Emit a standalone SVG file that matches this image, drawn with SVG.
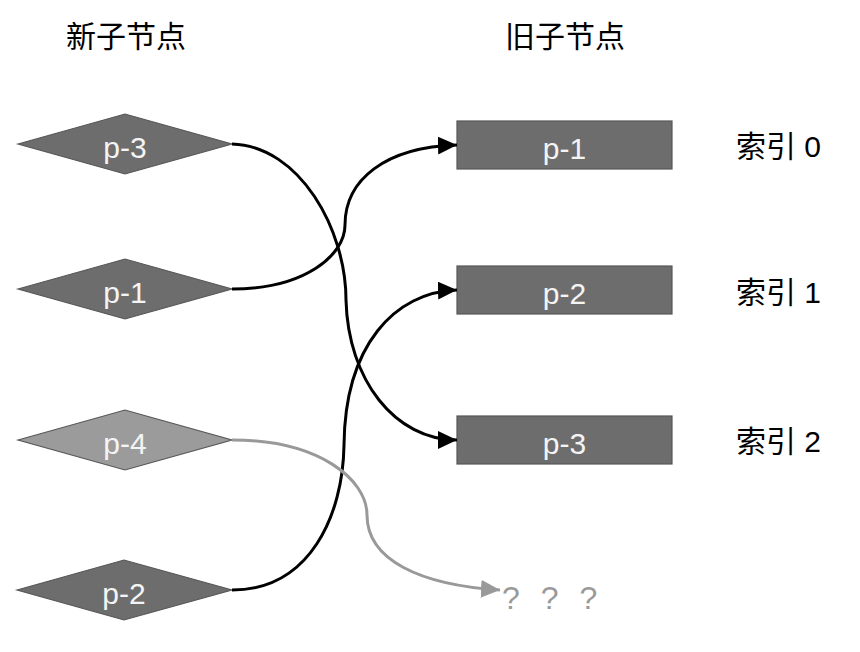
<svg xmlns="http://www.w3.org/2000/svg" width="860" height="652" viewBox="0 0 860 652">
<defs>
<style>
.dia{fill:#6d6d6d;stroke:#575757;stroke-width:1.2}
.dia.light{fill:#9b9b9b}
.rect{fill:#6d6d6d;stroke:#575757;stroke-width:1.2}
.nt{font-family:"Liberation Sans",Arial,sans-serif;font-size:30px;fill:#f4f4f4;text-anchor:middle}
.hd{font-family:"Liberation Sans","Noto Sans CJK SC",sans-serif;font-size:30px;fill:#000;text-anchor:middle}
.lb{font-family:"Liberation Sans","Noto Sans CJK SC",sans-serif;font-size:30px;fill:#000}
.q{font-family:"Liberation Sans",Arial,sans-serif;font-size:32px;fill:#999;word-spacing:12px}
.ed{fill:none;stroke:#000;stroke-width:3}
.ed.gray{stroke:#999}
</style>
<marker id="ah" markerUnits="userSpaceOnUse" markerWidth="20" markerHeight="18" refX="19" refY="9" orient="auto">
<path d="M0,0 L19,9 L0,18 Z" fill="#000"/>
</marker>
<marker id="ahg" markerUnits="userSpaceOnUse" markerWidth="20" markerHeight="18" refX="19" refY="9" orient="auto">
<path d="M0,0 L19,9 L0,18 Z" fill="#999"/>
</marker>
</defs>
<rect width="860" height="652" fill="#fff"/>

<g id="headers">
<text class="hd" x="126" y="47">新子节点</text>
<text class="hd" x="565" y="47">旧子节点</text>
</g>

<g id="new-p3">
<polygon class="dia" points="18,144 125,114 232,144 125,174"/>
<text class="nt" x="125" y="158">p-3</text>
</g>
<g id="new-p1">
<polygon class="dia" points="18,289 125,259 232,289 125,319"/>
<text class="nt" x="125" y="303">p-1</text>
</g>
<g id="new-p4">
<polygon class="dia light" points="18,440 125,410 232,440 125,470"/>
<text class="nt" x="125" y="454">p-4</text>
</g>
<g id="new-p2">
<polygon class="dia" points="17,590 124,560 232,590 124,620"/>
<text class="nt" x="124" y="604">p-2</text>
</g>

<g id="old-p1">
<rect class="rect" x="457" y="121" width="215" height="48"/>
<text class="nt" x="564.5" y="159">p-1</text>
</g>
<g id="old-p2">
<rect class="rect" x="457" y="266" width="215" height="48"/>
<text class="nt" x="564.5" y="304">p-2</text>
</g>
<g id="old-p3">
<rect class="rect" x="457" y="416" width="215" height="48"/>
<text class="nt" x="564.5" y="454">p-3</text>
</g>

<g id="index-labels">
<text class="lb" x="736" y="157">索引 0</text>
<text class="lb" x="736" y="303">索引 1</text>
<text class="lb" x="736" y="452">索引 2</text>
</g>

<g id="unknown">
<text class="q" x="502" y="609">? ? ?</text>
</g>

<g id="connectors">
<path class="ed" marker-end="url(#ah)" d="M232,144 C300,146 346,230 346,300 C348,380 395,440 457,440"/>
<path class="ed" marker-end="url(#ah)" d="M232,289 C305,289 345,255 345,225 C345,180 385,147 457,145"/>
<path class="ed" marker-end="url(#ah)" d="M232,590 C310,590 343,515 344,445 C345,345 395,292 457,290"/>
<path class="ed gray" marker-end="url(#ahg)" d="M232,440 C320,440 367,480 367,515 C367,560 420,585 500,590"/>
</g>
</svg>
